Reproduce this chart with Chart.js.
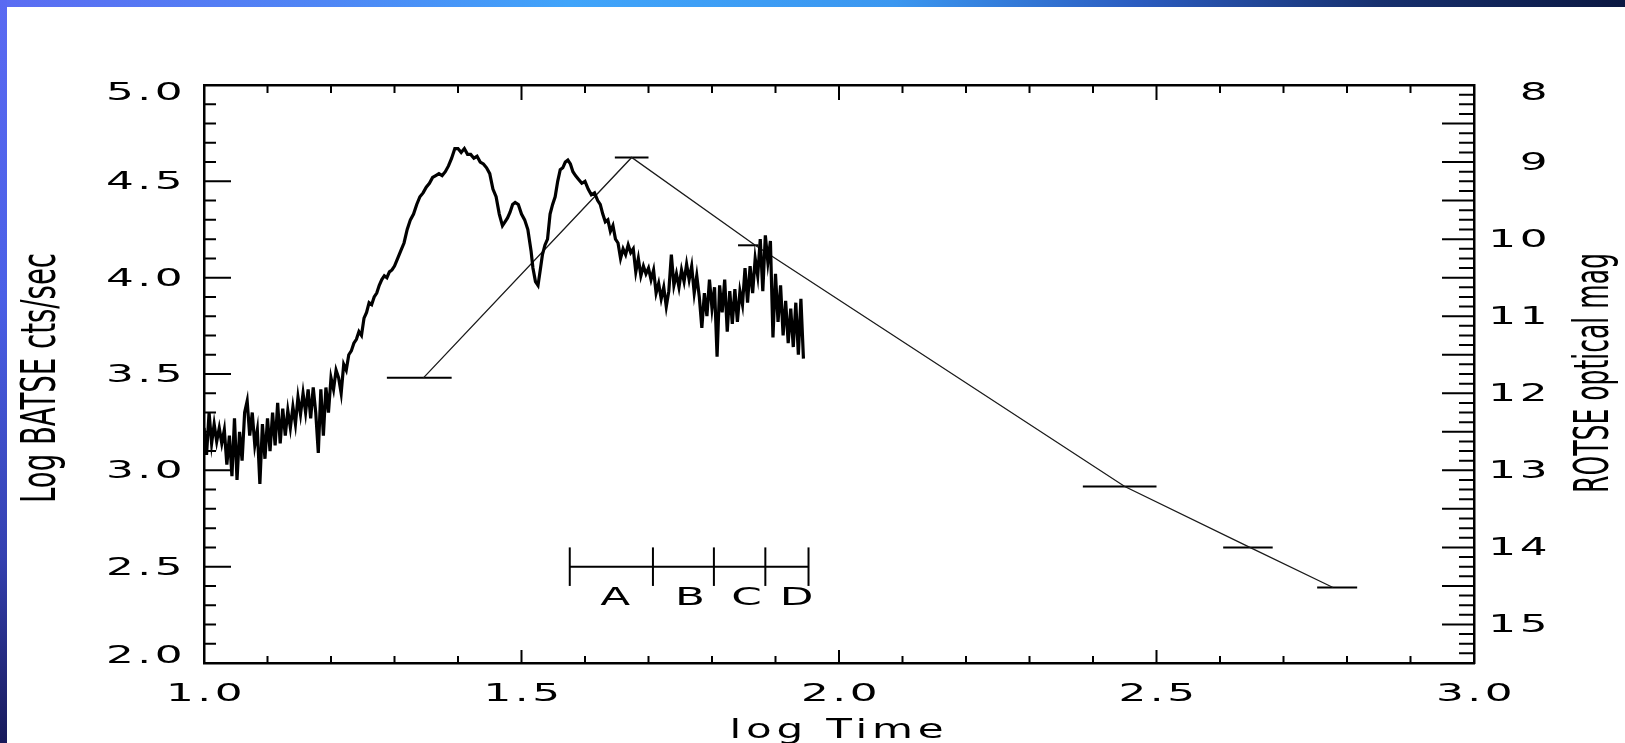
<!DOCTYPE html>
<html><head><meta charset="utf-8">
<script src="https://cdn.jsdelivr.net/npm/chart.js@4.4.1/dist/chart.umd.min.js"></script>
<style>
html,body{margin:0;padding:0;background:#fff;width:1625px;height:743px;overflow:hidden}
#c{position:absolute;left:0;top:0}
#ft{position:absolute;left:0;top:0;width:1625px;height:7px;background:linear-gradient(to right,#5b6cf2 0%,#4f86f5 20%,#40a4fa 35%,#3b97f0 55%,#2b5cc0 70%,#17306e 85%,#0b1842 100%)}
#fl{position:absolute;left:0;top:0;width:7px;height:743px;background:linear-gradient(to bottom,#5a6af2 0%,#4a5fe6 40%,#3440b0 75%,#181a5a 100%)}
</style></head>
<body><canvas id="c" width="1625" height="743"></canvas><div id="ft"></div><div id="fl"></div>
<script>
// ---------- data ----------
const batseX = [
1.000,1.004,1.008,1.012,1.016,1.020,1.024,1.028,1.032,1.036,
1.040,1.044,1.048,1.052,1.056,1.060,1.064,1.068,1.072,1.076,
1.080,1.084,1.088,1.092,1.096,1.100,1.104,1.108,1.112,1.116,
1.120,1.124,1.128,1.132,1.136,1.140,1.144,1.148,1.152,1.156,
1.160,1.164,1.168,1.172,1.176,1.180,1.184,1.188,1.192,1.196,
1.200,1.204,1.208,1.212,1.216,1.220,1.224,1.228,1.232,1.236,
1.240,1.244,1.248,1.252,1.256,1.260,1.264,1.268,1.272,1.276,
1.280,1.284,1.288,1.292,1.296,1.300,1.305,1.310,1.315,1.320,
1.325,1.330,1.335,1.340,1.345,1.350,1.355,1.360,1.365,1.370,
1.375,1.380,1.385,1.390,1.395,1.400,1.405,1.410,1.415,1.420,
1.425,1.430,1.435,1.440,1.445,1.450,1.455,1.460,1.465,1.470,
1.474,1.478,1.482,1.486,1.490,1.495,1.500,1.505,1.510,1.515,
1.518,1.522,1.526,1.530,1.533,1.537,1.541,1.545,1.549,1.553,
1.557,1.561,1.565,1.569,1.573,1.577,1.581,1.585,1.590,1.595,
1.600,1.605,1.610,1.615,1.620,1.624,1.628,1.632,1.636,1.640,
1.644,1.648,1.652,1.656,1.660,1.664,1.668,1.672,1.676,1.680,
1.684,1.688,1.692,1.696,1.700,1.704,1.708,1.712,1.716,1.720,
1.724,1.728,1.732,1.736,1.740,1.744,1.748,1.752,1.756,1.760,
1.764,1.768,1.772,1.776,1.780,1.784,1.788,1.792,1.796,1.800,
1.804,1.808,1.812,1.816,1.820,1.824,1.828,1.832,1.836,1.840,
1.844,1.848,1.852,1.856,1.860,1.864,1.868,1.872,1.876,1.880,
1.884,1.888,1.892,1.896,1.900,1.904,1.908,1.912,1.916,1.920,
1.924,1.928,1.932,1.936,1.940,1.944];
const batseY = [
3.22,3.08,3.30,3.14,3.24,3.15,3.22,3.14,3.21,3.03,
3.18,2.97,3.27,2.95,3.20,3.05,3.30,3.36,3.18,3.30,
3.13,3.21,2.93,3.24,3.06,3.27,3.10,3.30,3.13,3.35,
3.14,3.32,3.18,3.31,3.22,3.33,3.24,3.38,3.29,3.40,
3.30,3.42,3.27,3.43,3.30,3.09,3.42,3.18,3.43,3.30,
3.48,3.42,3.52,3.48,3.40,3.55,3.52,3.60,3.62,3.66,
3.68,3.72,3.70,3.79,3.82,3.87,3.86,3.90,3.92,3.96,
3.99,4.01,4.00,4.03,4.04,4.06,4.10,4.14,4.18,4.25,
4.30,4.33,4.38,4.42,4.44,4.47,4.49,4.52,4.53,4.54,
4.53,4.55,4.58,4.62,4.67,4.67,4.65,4.67,4.64,4.64,
4.62,4.63,4.60,4.59,4.57,4.54,4.46,4.42,4.33,4.27,
4.29,4.31,4.34,4.38,4.39,4.38,4.33,4.30,4.25,4.14,
4.05,3.98,3.96,4.05,4.12,4.17,4.20,4.33,4.38,4.42,
4.50,4.56,4.57,4.60,4.61,4.59,4.55,4.53,4.51,4.49,
4.50,4.46,4.43,4.44,4.40,4.38,4.33,4.29,4.30,4.24,
4.27,4.20,4.18,4.10,4.15,4.12,4.17,4.13,4.15,4.03,
4.10,4.01,4.06,4.02,4.05,3.99,4.04,3.92,3.97,3.89,
3.95,3.85,3.93,4.12,3.96,4.02,3.95,4.04,3.98,4.07,
3.99,4.06,3.92,4.01,3.90,3.74,3.92,3.80,3.99,3.84,
3.95,3.59,3.96,3.82,3.99,3.72,3.93,3.76,3.94,3.77,
3.93,3.86,4.05,3.87,4.06,3.92,4.10,4.01,4.20,3.93,
4.22,4.08,4.19,3.69,4.02,3.77,3.96,3.70,3.88,3.66,
3.84,3.64,3.87,3.60,3.89,3.58];

const optX   = [1.3455, 1.6735, 1.868, 2.450, 2.647, 2.778];
const optMag = [11.80, 8.94, 10.08, 13.21, 14.00, 14.52];
const optLo  = [1.288, 1.647, 1.841, 2.384, 2.605, 2.753];
const optHi  = [1.390, 1.700, 1.873, 2.500, 2.683, 2.816];

const segTickX = [1.576, 1.707, 1.803, 1.884, 1.952];
const segLevel = 2.5, segTickLo = 2.4, segTickHi = 2.6;
const segLabels = ['A', 'B', 'C', 'D'];
const segLabelX = [1.647, 1.765, 1.854, 1.933];
const segLabelY = 2.335;

const xTitle = 'log Time';
const yTitle = 'Log BATSE cts/sec';
const y2Title = 'ROTSE optical mag';
const xRange = [1, 3], yRange = [2, 5], y2Range = [8, 15.5];

// ---------- text stretching (wide plotting font look) ----------
const canvas = document.getElementById('c');
const ctx = canvas.getContext('2d');
const SX = 1.75, LS = 2;
const rawFill = ctx.fillText.bind(ctx);
const rawMeasure = ctx.measureText.bind(ctx);
ctx.fillText = function (t, x, y) {
  ctx.save(); ctx.letterSpacing = LS + 'px'; ctx.translate(x, y); ctx.scale(SX, 1);
  rawFill(t, 0, 0); ctx.restore();
};
ctx.measureText = function (t) {
  const prev = ctx.letterSpacing; ctx.letterSpacing = LS + 'px';
  const m = rawMeasure(t); ctx.letterSpacing = prev;
  return { width: m.width * SX, actualBoundingBoxAscent: m.actualBoundingBoxAscent,
    actualBoundingBoxDescent: m.actualBoundingBoxDescent,
    actualBoundingBoxLeft: m.actualBoundingBoxLeft * SX, actualBoundingBoxRight: m.actualBoundingBoxRight * SX };
};

function isMult(v, step) { const r = v / step; return Math.abs(r - Math.round(r)) < 1e-6; }

function drawTitle(text, cx, cy, rot, size, len, ls) {
  ctx.save();
  ctx.font = size + 'px "DejaVu Sans"';
  ctx.letterSpacing = ls + 'px';
  const w = rawMeasure(text).width;
  const s = len / w;
  ctx.translate(cx, cy); ctx.rotate(rot); ctx.scale(s, 1);
  ctx.textAlign = 'center'; ctx.textBaseline = 'alphabetic'; ctx.fillStyle = '#000';
  rawFill(text, 0, 0);
  ctx.restore();
}

const decor = {
  id: 'decor',
  beforeDraw(chart) {
    ['y', 'y2'].forEach(id => {
      const s = chart.scales[id];
      s.getLabelItems().forEach(it => {
        const tr = it.options.translation;
        if (tr[1] < s.top + 8) tr[1] = s.top + 8;
        if (tr[1] > s.bottom - 7) tr[1] = s.bottom - 7;
      });
    });
  },
  afterDatasetsDraw(chart) {
    const a = chart.chartArea, sc = chart.scales;
    ctx.save();
    ctx.strokeStyle = '#000'; ctx.lineWidth = 2; ctx.beginPath();
    sc.x.ticks.forEach(t => {
      const p = sc.x.getPixelForValue(t.value); const maj = isMult(t.value, 0.5);
      const lb = maj ? 13 : 7, lt = maj ? 15 : 8;
      ctx.moveTo(p, a.bottom); ctx.lineTo(p, a.bottom - lb);
      ctx.moveTo(p, a.top); ctx.lineTo(p, a.top + lt);
    });
    sc.y.ticks.forEach(t => {
      const p = sc.y.getPixelForValue(t.value); const L = isMult(t.value, 0.5) ? 27 : 12;
      ctx.moveTo(a.left, p); ctx.lineTo(a.left + L, p);
    });
    sc.y2.ticks.forEach(t => {
      const p = sc.y2.getPixelForValue(t.value); const L = isMult(t.value, 0.5) ? 32 : 15;
      ctx.moveTo(a.right, p); ctx.lineTo(a.right - L, p);
    });
    ctx.stroke();
    ctx.font = '25px "DejaVu Sans"'; ctx.textAlign = 'center'; ctx.textBaseline = 'middle'; ctx.fillStyle = '#000';
    segLabels.forEach((s, i) => ctx.fillText(s, sc.x.getPixelForValue(segLabelX[i]) + 2, sc.y.getPixelForValue(segLabelY)));
    ctx.restore();
    const cxm = (a.left + a.right) / 2, cym = (a.top + a.bottom) / 2;
    drawTitle(yTitle, a.left - 149, cym + 4, -Math.PI / 2, 48, 250, 0);
    drawTitle(y2Title, a.right + 134, cym - 1, -Math.PI / 2, 48, 240, 0);
    drawTitle(xTitle, cxm, a.bottom + 75, 0, 26, 219, 3);
  }
};

const pts = (xs, ys) => xs.map((x, i) => ({ x: x, y: ys[i] }));
const thin = { showLine: true, pointRadius: 0, borderColor: '#000', borderWidth: 2 };
const datasets = [
  { label: 'BATSE', data: pts(batseX, batseY), yAxisID: 'y', showLine: true, pointRadius: 0, borderColor: '#000', borderWidth: 3.2 },
  { label: 'ROTSE', data: pts(optX, optMag), yAxisID: 'y2', showLine: true, pointRadius: 0, borderColor: '#1a1a1a', borderWidth: 1.3 }
];
optX.forEach((_, i) => datasets.push(Object.assign({ label: 'err' + i, yAxisID: 'y2',
  data: [{ x: optLo[i], y: optMag[i] }, { x: optHi[i], y: optMag[i] }] }, thin)));
datasets.push(Object.assign({ label: 'seg', yAxisID: 'y',
  data: [{ x: segTickX[0], y: segLevel }, { x: segTickX[segTickX.length - 1], y: segLevel }] }, thin));
segTickX.forEach((t, i) => datasets.push(Object.assign({ label: 'segTick' + i, yAxisID: 'y',
  data: [{ x: t, y: segTickLo }, { x: t, y: segTickHi }] }, thin)));

const tickFont = { family: 'DejaVu Sans', size: 25 };
const border = { display: true, color: '#000', width: 2.5 };
const noGrid = { display: false, drawOnChartArea: false, drawTicks: false };

new Chart(ctx, {
  type: 'scatter',
  data: { datasets },
  options: {
    responsive: false, animation: false, devicePixelRatio: 1,
    layout: { padding: { top: 85, right: 74, bottom: 0, left: 0 } },
    plugins: { legend: { display: false }, tooltip: { enabled: false } },
    scales: {
      x: { type: 'linear', position: 'bottom', min: xRange[0], max: xRange[1],
        afterFit(s) { s.height = 80; }, border, grid: noGrid,
        ticks: { stepSize: 0.1, autoSkip: false, maxRotation: 0, minRotation: 0, padding: 16, labelOffset: 2,
          color: '#000', font: tickFont, callback: v => isMult(v, 0.5) ? v.toFixed(1) : '' } },
      x2: { type: 'linear', position: 'top', min: xRange[0], max: xRange[1], display: true,
        afterFit(s) { s.height = 0; }, border, grid: noGrid, ticks: { display: false } },
      y: { type: 'linear', position: 'left', min: yRange[0], max: yRange[1],
        afterFit(s) { s.width = 204; }, border, grid: noGrid,
        ticks: { stepSize: 0.1, autoSkip: false, padding: 18, labelOffset: 1.5, color: '#000', font: tickFont,
          callback: v => isMult(v, 0.5) ? v.toFixed(1) : '' } },
      y2: { type: 'linear', position: 'right', min: y2Range[0], max: y2Range[1], reverse: true,
        afterFit(s) { s.width = 77; }, border, grid: noGrid,
        ticks: { stepSize: 0.125, autoSkip: false, crossAlign: 'far', padding: 0, labelOffset: 1.5, color: '#000', font: tickFont,
          callback: v => isMult(v, 1) ? String(Math.round(v)) : '' } }
    }
  },
  plugins: [decor]
});
</script></body></html>
